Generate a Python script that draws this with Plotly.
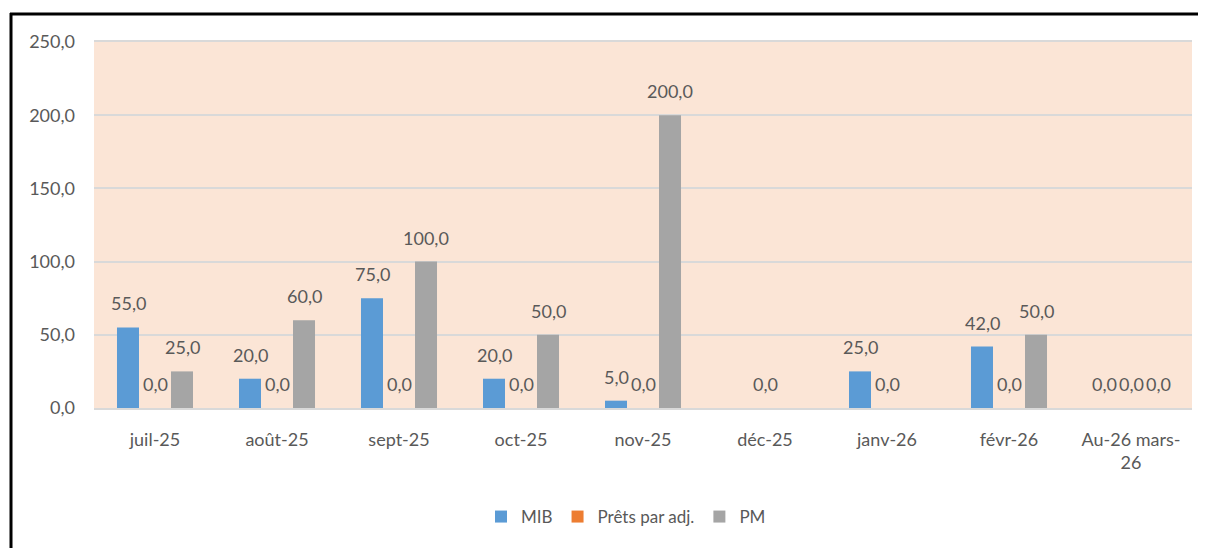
import plotly.graph_objects as go

categories = ["juil-25", "août-25", "sept-25", "oct-25", "nov-25", "déc-25", "janv-26", "févr-26", "Au-26 mars-26"]
tick_labels = ["juil-25", "août-25", "sept-25", "oct-25", "nov-25", "déc-25", "janv-26", "févr-26", "Au-26 mars-<br>26"]
mib = [55.0, 20.0, 75.0, 20.0, 5.0, None, 25.0, 42.0, 0.0]
prets = [0.0, 0.0, 0.0, 0.0, 0.0, 0.0, 0.0, 0.0, 0.0]
pm = [25.0, 60.0, 100.0, 50.0, 200.0, None, None, 50.0, 0.0]

series = [("MIB", mib, "#5B9BD5"), ("Prêts par adj.", prets, "#ED7D31"), ("PM", pm, "#A5A5A5")]

FONT = "Lato, 'Open Sans', sans-serif"
GRAY = "#595959"

fig = go.Figure()
for name, vals, col in series:
    fig.add_trace(go.Bar(x=categories, y=vals, name=name, marker_color=col, marker_line_width=0))

# data labels, placed through the axes at each bar's value
offsets = [-27, 0, 27]
annotations = []
for (name, vals, col), dx in zip(series, offsets):
    for c, v in zip(categories, vals):
        if v is None:
            continue
        annotations.append(dict(x=c, y=v, xref="x", yref="y", xshift=dx, yshift=24,
                                text=f"{v:.1f}".replace(".", ","), showarrow=False,
                                yanchor="middle", font=dict(family=FONT, size=18, color=GRAY)))

# page has an 8px body margin; figure sized to fill the rest
OFF = 8
PL, PR, PT, PB = 94, 1192, 42, 408          # plot area in page pixels
FW, FH = 1206 - OFF, 548 - OFF
L, T = PL - OFF, PT - OFF
R, B = FW - (PR - OFF), FH - (PB - OFF)
W, H = PR - PL, PB - PT
def px(x): return (x - PL) / W
def py(y): return (PB - y) / H
shapes = [
    dict(type="line", xref="paper", yref="paper", x0=px(11), x1=px(11), y0=py(13), y1=py(570),
         line=dict(color="black", width=3)),
    dict(type="line", xref="paper", yref="paper", x0=px(10), x1=px(1230), y0=py(14), y1=py(14),
         line=dict(color="black", width=3)),
]

fig.update_layout(
    width=FW, height=FH,
    margin=dict(l=L, r=R, t=T, b=B),
    barmode="group", bargap=0.336, bargroupgap=0.185,
    plot_bgcolor="#FBE5D6", paper_bgcolor="white",
    separators=", ",
    font=dict(family=FONT, size=18, color=GRAY),
    showlegend=True,
    legend=dict(orientation="h", x=px(626), xanchor="center", y=py(517), yanchor="middle",
                itemwidth=30, font=dict(family=FONT, size=17, color=GRAY), traceorder="normal"),
    annotations=annotations,
    shapes=shapes,
)
fig.update_xaxes(tickvals=categories, ticktext=tick_labels, showline=True, linecolor="#D9D9D9",
                 linewidth=2, mirror=True, ticks="", ticklabelstandoff=14,
                 tickfont=dict(family=FONT, size=18, color=GRAY))
fig.update_yaxes(range=[0, 250], dtick=50, tickformat=".1f", showgrid=True, gridcolor="#D9D9D9",
                 gridwidth=1.5, zeroline=False, ticks="", ticklabelstandoff=18,
                 tickfont=dict(family=FONT, size=18, color=GRAY))

fig.write_html("out.html")
